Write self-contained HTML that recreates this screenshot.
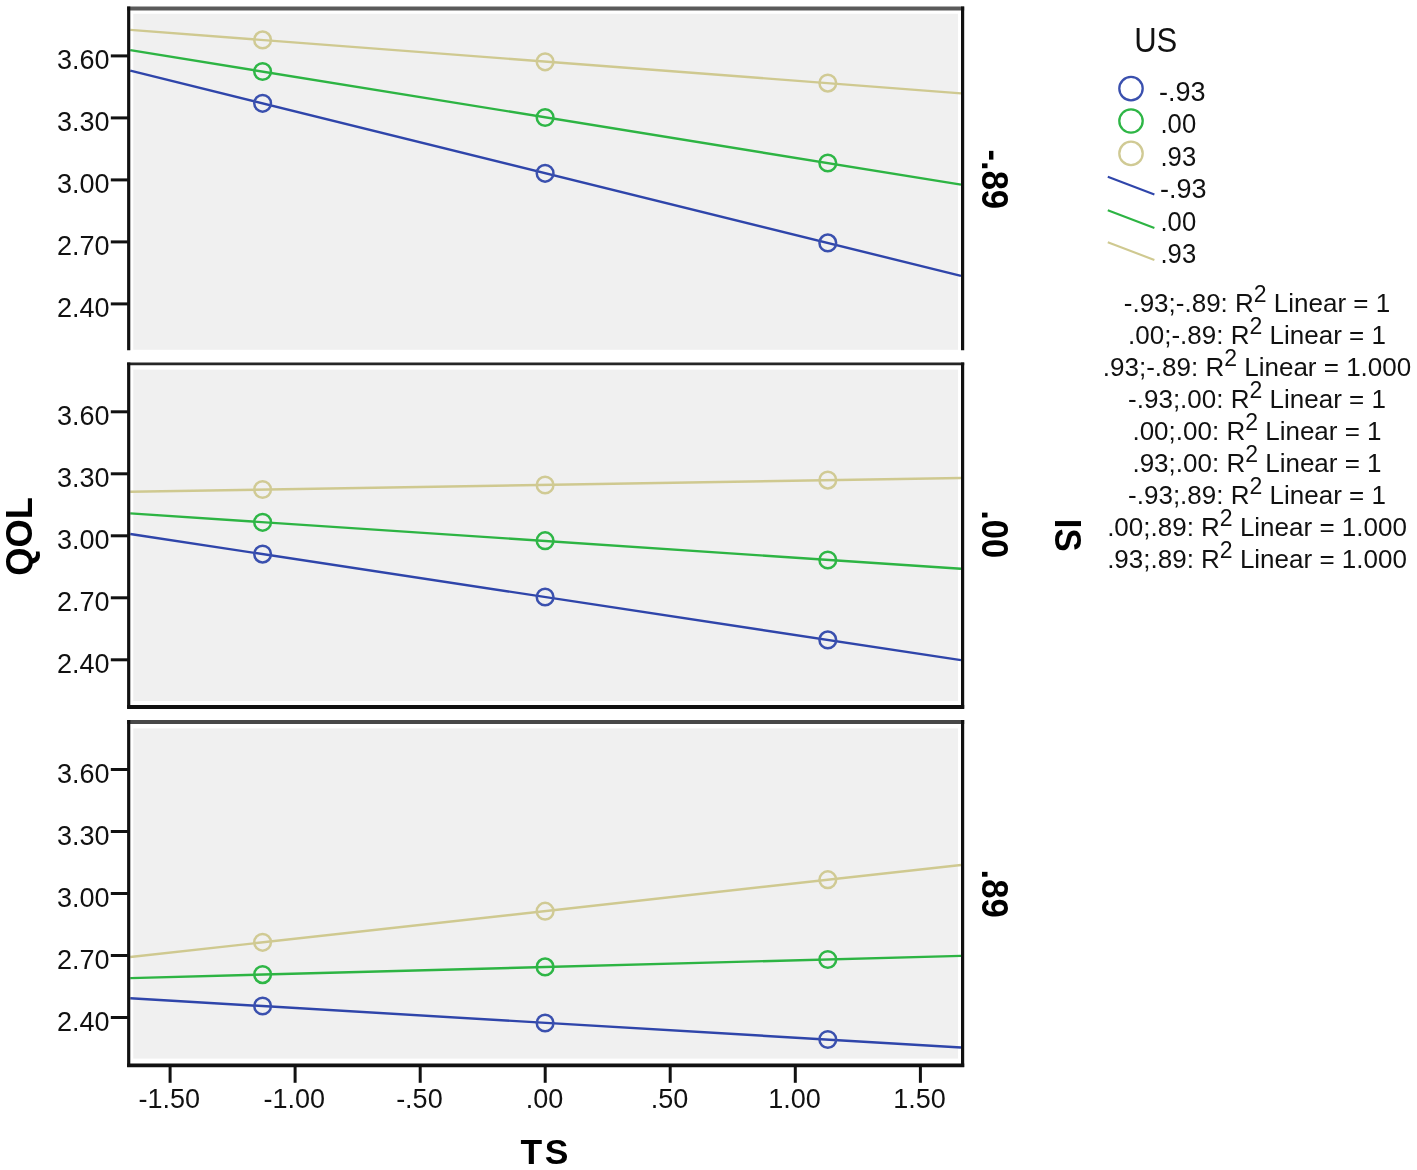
<!DOCTYPE html>
<html><head><meta charset="utf-8"><title>QOL by TS</title>
<style>
html,body{margin:0;padding:0;background:#fff;}
body{width:1417px;height:1170px;overflow:hidden;}
svg{display:block;}
</style></head>
<body>
<svg width="1417" height="1170" viewBox="0 0 1417 1170">
<rect x="0" y="0" width="1417" height="1170" fill="#ffffff"/>
<rect x="133.3" y="13.8" width="824.7" height="336.0" fill="#f0f0f0"/>
<line x1="130.3" y1="29.89" x2="961.0" y2="93.38" stroke="#cfc990" stroke-width="2.4"/>
<line x1="130.3" y1="50.17" x2="961.0" y2="184.65" stroke="#2db443" stroke-width="2.4"/>
<line x1="130.3" y1="70.70" x2="961.0" y2="275.87" stroke="#2f45aa" stroke-width="2.4"/>
<circle cx="262.6" cy="39.9" r="8.35" fill="none" stroke="#d0ca94" stroke-width="2.5"/>
<circle cx="545.1" cy="61.8" r="8.35" fill="none" stroke="#d0ca94" stroke-width="2.5"/>
<circle cx="827.8" cy="83.1" r="8.35" fill="none" stroke="#d0ca94" stroke-width="2.5"/>
<circle cx="262.6" cy="71.5" r="8.35" fill="none" stroke="#2eb646" stroke-width="2.5"/>
<circle cx="545.1" cy="117.5" r="8.35" fill="none" stroke="#2eb646" stroke-width="2.5"/>
<circle cx="827.8" cy="163.0" r="8.35" fill="none" stroke="#2eb646" stroke-width="2.5"/>
<circle cx="262.6" cy="103.3" r="8.35" fill="none" stroke="#3a50ae" stroke-width="2.5"/>
<circle cx="545.1" cy="173.3" r="8.35" fill="none" stroke="#3a50ae" stroke-width="2.5"/>
<circle cx="827.8" cy="242.9" r="8.35" fill="none" stroke="#3a50ae" stroke-width="2.5"/>
<line x1="127.1" y1="8.4" x2="964.2" y2="8.4" stroke="#5a5a5a" stroke-width="4.0"/>
<line x1="128.7" y1="6.4" x2="128.7" y2="350.3" stroke="#111" stroke-width="3.2"/>
<line x1="962.6" y1="6.4" x2="962.6" y2="350.3" stroke="#111" stroke-width="3.2"/>
<line x1="110.8" y1="55.9" x2="128.7" y2="55.9" stroke="#111" stroke-width="3"/>
<text x="109.6" y="69.3" font-family='"Liberation Sans", Arial, sans-serif' font-size="27" text-anchor="end" fill="#111">3.60</text>
<line x1="110.8" y1="117.9" x2="128.7" y2="117.9" stroke="#111" stroke-width="3"/>
<text x="109.6" y="131.3" font-family='"Liberation Sans", Arial, sans-serif' font-size="27" text-anchor="end" fill="#111">3.30</text>
<line x1="110.8" y1="179.9" x2="128.7" y2="179.9" stroke="#111" stroke-width="3"/>
<text x="109.6" y="193.3" font-family='"Liberation Sans", Arial, sans-serif' font-size="27" text-anchor="end" fill="#111">3.00</text>
<line x1="110.8" y1="241.9" x2="128.7" y2="241.9" stroke="#111" stroke-width="3"/>
<text x="109.6" y="255.3" font-family='"Liberation Sans", Arial, sans-serif' font-size="27" text-anchor="end" fill="#111">2.70</text>
<line x1="110.8" y1="303.9" x2="128.7" y2="303.9" stroke="#111" stroke-width="3"/>
<text x="109.6" y="317.3" font-family='"Liberation Sans", Arial, sans-serif' font-size="27" text-anchor="end" fill="#111">2.40</text>
<rect x="133.3" y="369.6" width="824.7" height="331.4" fill="#f0f0f0"/>
<line x1="130.3" y1="491.77" x2="961.0" y2="477.95" stroke="#cfc990" stroke-width="2.4"/>
<line x1="130.3" y1="513.33" x2="961.0" y2="568.74" stroke="#2db443" stroke-width="2.4"/>
<line x1="130.3" y1="534.02" x2="961.0" y2="660.13" stroke="#2f45aa" stroke-width="2.4"/>
<circle cx="262.6" cy="489.5" r="8.35" fill="none" stroke="#d0ca94" stroke-width="2.5"/>
<circle cx="545.1" cy="485.0" r="8.35" fill="none" stroke="#d0ca94" stroke-width="2.5"/>
<circle cx="827.8" cy="480.1" r="8.35" fill="none" stroke="#d0ca94" stroke-width="2.5"/>
<circle cx="262.6" cy="522.3" r="8.35" fill="none" stroke="#2eb646" stroke-width="2.5"/>
<circle cx="545.1" cy="540.7" r="8.35" fill="none" stroke="#2eb646" stroke-width="2.5"/>
<circle cx="827.8" cy="560.0" r="8.35" fill="none" stroke="#2eb646" stroke-width="2.5"/>
<circle cx="262.6" cy="554.1" r="8.35" fill="none" stroke="#3a50ae" stroke-width="2.5"/>
<circle cx="545.1" cy="597.0" r="8.35" fill="none" stroke="#3a50ae" stroke-width="2.5"/>
<circle cx="827.8" cy="639.9" r="8.35" fill="none" stroke="#3a50ae" stroke-width="2.5"/>
<line x1="127.1" y1="363.9" x2="964.2" y2="363.9" stroke="#262626" stroke-width="2.6"/>
<line x1="127.1" y1="707.0" x2="964.2" y2="707.0" stroke="#111" stroke-width="3.8000000000000003"/>
<line x1="128.7" y1="362.6" x2="128.7" y2="708.6" stroke="#111" stroke-width="3.2"/>
<line x1="962.6" y1="362.6" x2="962.6" y2="708.6" stroke="#111" stroke-width="3.2"/>
<line x1="110.8" y1="411.8" x2="128.7" y2="411.8" stroke="#111" stroke-width="3"/>
<text x="109.6" y="425.2" font-family='"Liberation Sans", Arial, sans-serif' font-size="27" text-anchor="end" fill="#111">3.60</text>
<line x1="110.8" y1="473.8" x2="128.7" y2="473.8" stroke="#111" stroke-width="3"/>
<text x="109.6" y="487.2" font-family='"Liberation Sans", Arial, sans-serif' font-size="27" text-anchor="end" fill="#111">3.30</text>
<line x1="110.8" y1="535.8" x2="128.7" y2="535.8" stroke="#111" stroke-width="3"/>
<text x="109.6" y="549.2" font-family='"Liberation Sans", Arial, sans-serif' font-size="27" text-anchor="end" fill="#111">3.00</text>
<line x1="110.8" y1="597.8" x2="128.7" y2="597.8" stroke="#111" stroke-width="3"/>
<text x="109.6" y="611.2" font-family='"Liberation Sans", Arial, sans-serif' font-size="27" text-anchor="end" fill="#111">2.70</text>
<line x1="110.8" y1="659.8" x2="128.7" y2="659.8" stroke="#111" stroke-width="3"/>
<text x="109.6" y="673.2" font-family='"Liberation Sans", Arial, sans-serif' font-size="27" text-anchor="end" fill="#111">2.40</text>
<rect x="133.3" y="728.4" width="824.7" height="330.2" fill="#f0f0f0"/>
<line x1="130.3" y1="957.02" x2="961.0" y2="865.01" stroke="#cfc990" stroke-width="2.4"/>
<line x1="130.3" y1="978.08" x2="961.0" y2="955.89" stroke="#2db443" stroke-width="2.4"/>
<line x1="130.3" y1="998.24" x2="961.0" y2="1047.48" stroke="#2f45aa" stroke-width="2.4"/>
<circle cx="262.6" cy="942.3" r="8.35" fill="none" stroke="#d0ca94" stroke-width="2.5"/>
<circle cx="545.1" cy="911.2" r="8.35" fill="none" stroke="#d0ca94" stroke-width="2.5"/>
<circle cx="827.8" cy="879.7" r="8.35" fill="none" stroke="#d0ca94" stroke-width="2.5"/>
<circle cx="262.6" cy="974.6" r="8.35" fill="none" stroke="#2eb646" stroke-width="2.5"/>
<circle cx="545.1" cy="966.9" r="8.35" fill="none" stroke="#2eb646" stroke-width="2.5"/>
<circle cx="827.8" cy="959.5" r="8.35" fill="none" stroke="#2eb646" stroke-width="2.5"/>
<circle cx="262.6" cy="1006.0" r="8.35" fill="none" stroke="#3a50ae" stroke-width="2.5"/>
<circle cx="545.1" cy="1023.0" r="8.35" fill="none" stroke="#3a50ae" stroke-width="2.5"/>
<circle cx="827.8" cy="1039.5" r="8.35" fill="none" stroke="#3a50ae" stroke-width="2.5"/>
<line x1="127.1" y1="722.0" x2="964.2" y2="722.0" stroke="#484848" stroke-width="4.0"/>
<line x1="127.1" y1="1065.3" x2="964.2" y2="1065.3" stroke="#111" stroke-width="3.8000000000000003"/>
<line x1="128.7" y1="720.0" x2="128.7" y2="1066.9" stroke="#111" stroke-width="3.2"/>
<line x1="962.6" y1="720.0" x2="962.6" y2="1066.9" stroke="#111" stroke-width="3.2"/>
<line x1="110.8" y1="769.5" x2="128.7" y2="769.5" stroke="#111" stroke-width="3"/>
<text x="109.6" y="782.9" font-family='"Liberation Sans", Arial, sans-serif' font-size="27" text-anchor="end" fill="#111">3.60</text>
<line x1="110.8" y1="831.5" x2="128.7" y2="831.5" stroke="#111" stroke-width="3"/>
<text x="109.6" y="844.9" font-family='"Liberation Sans", Arial, sans-serif' font-size="27" text-anchor="end" fill="#111">3.30</text>
<line x1="110.8" y1="893.5" x2="128.7" y2="893.5" stroke="#111" stroke-width="3"/>
<text x="109.6" y="906.9" font-family='"Liberation Sans", Arial, sans-serif' font-size="27" text-anchor="end" fill="#111">3.00</text>
<line x1="110.8" y1="955.5" x2="128.7" y2="955.5" stroke="#111" stroke-width="3"/>
<text x="109.6" y="968.9" font-family='"Liberation Sans", Arial, sans-serif' font-size="27" text-anchor="end" fill="#111">2.70</text>
<line x1="110.8" y1="1017.5" x2="128.7" y2="1017.5" stroke="#111" stroke-width="3"/>
<text x="109.6" y="1030.9" font-family='"Liberation Sans", Arial, sans-serif' font-size="27" text-anchor="end" fill="#111">2.40</text>
<line x1="170.1" y1="1065.9" x2="170.1" y2="1082.8" stroke="#111" stroke-width="3"/>
<text x="169.3" y="1107.7" font-family='"Liberation Sans", Arial, sans-serif' font-size="27" text-anchor="middle" fill="#111">-1.50</text>
<line x1="295.1" y1="1065.9" x2="295.1" y2="1082.8" stroke="#111" stroke-width="3"/>
<text x="294.3" y="1107.7" font-family='"Liberation Sans", Arial, sans-serif' font-size="27" text-anchor="middle" fill="#111">-1.00</text>
<line x1="420.2" y1="1065.9" x2="420.2" y2="1082.8" stroke="#111" stroke-width="3"/>
<text x="419.4" y="1107.7" font-family='"Liberation Sans", Arial, sans-serif' font-size="27" text-anchor="middle" fill="#111">-.50</text>
<line x1="545.2" y1="1065.9" x2="545.2" y2="1082.8" stroke="#111" stroke-width="3"/>
<text x="544.4" y="1107.7" font-family='"Liberation Sans", Arial, sans-serif' font-size="27" text-anchor="middle" fill="#111">.00</text>
<line x1="670.2" y1="1065.9" x2="670.2" y2="1082.8" stroke="#111" stroke-width="3"/>
<text x="669.5" y="1107.7" font-family='"Liberation Sans", Arial, sans-serif' font-size="27" text-anchor="middle" fill="#111">.50</text>
<line x1="795.3" y1="1065.9" x2="795.3" y2="1082.8" stroke="#111" stroke-width="3"/>
<text x="794.5" y="1107.7" font-family='"Liberation Sans", Arial, sans-serif' font-size="27" text-anchor="middle" fill="#111">1.00</text>
<line x1="920.4" y1="1065.9" x2="920.4" y2="1082.8" stroke="#111" stroke-width="3"/>
<text x="919.6" y="1107.7" font-family='"Liberation Sans", Arial, sans-serif' font-size="27" text-anchor="middle" fill="#111">1.50</text>
<text x="545.8" y="1163.8" font-family='"Liberation Sans", Arial, sans-serif' font-size="35.5" letter-spacing="2.6" font-weight="bold" text-anchor="middle" fill="#000">TS</text>
<text transform="translate(32.2,536.4) rotate(-90) scale(0.98,1)" x="0" y="0" font-family='"Liberation Sans", Arial, sans-serif' font-size="37" font-weight="bold" text-anchor="middle" fill="#000">QOL</text>
<text transform="translate(1055,535.2) rotate(90) scale(0.94,1)" x="0" y="0" font-family='"Liberation Sans", Arial, sans-serif' font-size="37" font-weight="bold" text-anchor="middle" fill="#000">IS</text>
<text transform="translate(981.6,179.3) rotate(90) scale(0.935,1)" x="0" y="0" font-family='"Liberation Sans", Arial, sans-serif' font-size="37" font-weight="bold" text-anchor="middle" fill="#000">-.89</text>
<text transform="translate(981.6,534.2) rotate(90) scale(0.935,1)" x="0" y="0" font-family='"Liberation Sans", Arial, sans-serif' font-size="37" font-weight="bold" text-anchor="middle" fill="#000">.00</text>
<text transform="translate(981.6,893.6) rotate(90) scale(0.935,1)" x="0" y="0" font-family='"Liberation Sans", Arial, sans-serif' font-size="37" font-weight="bold" text-anchor="middle" fill="#000">.89</text>
<text transform="translate(1134.2,52.2) scale(0.89,1)" x="0" y="0" font-family='"Liberation Sans", Arial, sans-serif' font-size="34.9" fill="#111">US</text>
<circle cx="1131" cy="88.6" r="11.7" fill="none" stroke="#3a50ae" stroke-width="2.3"/>
<text x="1159" y="100.6" font-family='"Liberation Sans", Arial, sans-serif' font-size="27" fill="#111">-.93</text>
<circle cx="1131" cy="121.0" r="11.7" fill="none" stroke="#2eb646" stroke-width="2.3"/>
<text transform="translate(1160.5,133.0) scale(0.95,1)" x="0" y="0" font-family='"Liberation Sans", Arial, sans-serif' font-size="27" fill="#111">.00</text>
<circle cx="1131" cy="153.4" r="11.7" fill="none" stroke="#d0ca94" stroke-width="2.3"/>
<text transform="translate(1160.5,165.9) scale(0.95,1)" x="0" y="0" font-family='"Liberation Sans", Arial, sans-serif' font-size="27" fill="#111">.93</text>
<line x1="1107.8" y1="176.85" x2="1154.4" y2="194.45" stroke="#2f45aa" stroke-width="2.1"/>
<text x="1160" y="198.2" font-family='"Liberation Sans", Arial, sans-serif' font-size="27" fill="#111">-.93</text>
<line x1="1107.8" y1="210.35" x2="1154.4" y2="227.95" stroke="#2db443" stroke-width="2.1"/>
<text transform="translate(1160.5,231.0) scale(0.95,1)" x="0" y="0" font-family='"Liberation Sans", Arial, sans-serif' font-size="27" fill="#111">.00</text>
<line x1="1107.8" y1="242.35" x2="1154.4" y2="259.95" stroke="#cfc990" stroke-width="2.1"/>
<text transform="translate(1160.5,263.0) scale(0.95,1)" x="0" y="0" font-family='"Liberation Sans", Arial, sans-serif' font-size="27" fill="#111">.93</text>
<text x="1257" y="311.6" font-family='"Liberation Sans", Arial, sans-serif' font-size="26" text-anchor="middle" fill="#111">-.93;-.89: R<tspan font-size="23" dy="-10">2</tspan><tspan dy="10"> Linear = 1</tspan></text>
<text x="1257" y="343.7" font-family='"Liberation Sans", Arial, sans-serif' font-size="26" text-anchor="middle" fill="#111">.00;-.89: R<tspan font-size="23" dy="-10">2</tspan><tspan dy="10"> Linear = 1</tspan></text>
<text x="1257" y="375.8" font-family='"Liberation Sans", Arial, sans-serif' font-size="26" text-anchor="middle" fill="#111">.93;-.89: R<tspan font-size="23" dy="-10">2</tspan><tspan dy="10"> Linear = 1.000</tspan></text>
<text x="1257" y="407.9" font-family='"Liberation Sans", Arial, sans-serif' font-size="26" text-anchor="middle" fill="#111">-.93;.00: R<tspan font-size="23" dy="-10">2</tspan><tspan dy="10"> Linear = 1</tspan></text>
<text x="1257" y="440.0" font-family='"Liberation Sans", Arial, sans-serif' font-size="26" text-anchor="middle" fill="#111">.00;.00: R<tspan font-size="23" dy="-10">2</tspan><tspan dy="10"> Linear = 1</tspan></text>
<text x="1257" y="472.1" font-family='"Liberation Sans", Arial, sans-serif' font-size="26" text-anchor="middle" fill="#111">.93;.00: R<tspan font-size="23" dy="-10">2</tspan><tspan dy="10"> Linear = 1</tspan></text>
<text x="1257" y="504.2" font-family='"Liberation Sans", Arial, sans-serif' font-size="26" text-anchor="middle" fill="#111">-.93;.89: R<tspan font-size="23" dy="-10">2</tspan><tspan dy="10"> Linear = 1</tspan></text>
<text x="1257" y="536.3" font-family='"Liberation Sans", Arial, sans-serif' font-size="26" text-anchor="middle" fill="#111">.00;.89: R<tspan font-size="23" dy="-10">2</tspan><tspan dy="10"> Linear = 1.000</tspan></text>
<text x="1257" y="568.4" font-family='"Liberation Sans", Arial, sans-serif' font-size="26" text-anchor="middle" fill="#111">.93;.89: R<tspan font-size="23" dy="-10">2</tspan><tspan dy="10"> Linear = 1.000</tspan></text>
</svg>
</body></html>
